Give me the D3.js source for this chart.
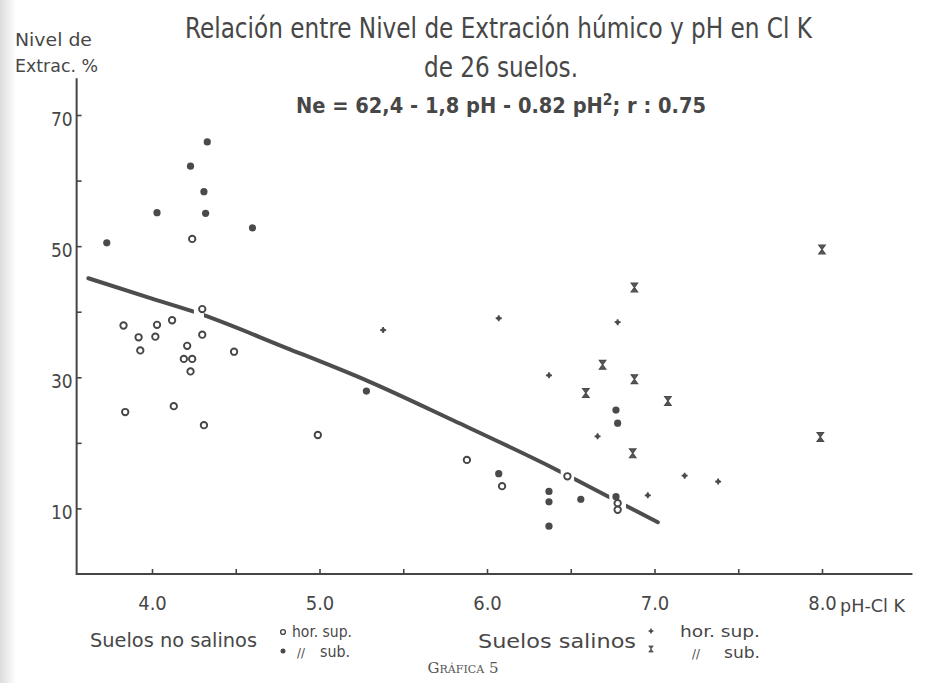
<!DOCTYPE html>
<html>
<head>
<meta charset="utf-8">
<script src="https://cdn.jsdelivr.net/npm/d3@7"></script>
<style>
  body { margin: 0; background: #fff; }
  svg { display: block; }
  text { fill: #474747; font-family: "Liberation Sans Narrow", "DejaVu Sans Condensed", "DejaVu Sans", sans-serif; }
</style>
</head>
<body>
<svg id="chart" width="928" height="683"></svg>
<script>
// [pH ClK, nivel de extraccion %]
const noSalinosSup = [
  [4.24, 51.1], [4.30, 40.4], [3.83, 37.9], [3.92, 36.1], [3.93, 34.1],
  [4.03, 38.0], [4.02, 36.2], [4.12, 38.7], [4.21, 34.8], [4.19, 32.8],
  [4.24, 32.8], [4.23, 30.9], [4.30, 36.5], [4.49, 33.9], [3.84, 24.7],
  [4.13, 25.6], [4.31, 22.7], [4.99, 21.2], [5.88, 17.4], [6.09, 13.4],
  [6.48, 14.9], [6.78, 10.8], [6.78, 9.8]
]
const noSalinosSub = [
  [4.33, 65.9], [4.23, 62.2], [4.31, 58.3], [4.32, 55.0], [4.03, 55.1],
  [4.60, 52.8], [3.73, 50.5], [5.28, 27.9], [6.77, 25.0], [6.78, 23.0],
  [6.07, 15.3], [6.37, 12.6], [6.37, 11.0], [6.56, 11.4], [6.77, 11.8],
  [6.37, 7.3]
]
const salinosSup = [
  [5.38, 37.2], [6.07, 39.0], [6.78, 38.4], [6.37, 30.3],
  [6.66, 21.0], [7.18, 15.0], [7.38, 14.1], [6.96, 12.0]
]
const salinosSub = [
  [6.88, 43.7], [6.69, 31.9], [6.88, 29.7], [6.59, 27.6],
  [7.08, 26.4], [6.87, 18.4], [8.00, 49.5], [7.99, 20.9]
]

// fitted curve as drawn and where the pen was lifted
const curvaPH = [3.62, 4.0, 4.25, 4.8, 5.3, 5.8, 6.4, 6.8, 7.02]
const curvaNivel = [45.1, 42.0, 40.0, 34.5, 29.3, 23.4, 16.1, 10.8, 7.9]
const huecos = [[4.25, 4.31], [6.44, 6.52], [6.73, 6.83]]

const xTicks = [4, 4.5, 5, 5.5, 6, 6.5, 7, 7.5, 8]
const yTicks = [10, 20, 30, 40, 50, 60, 70]

const ink = "#454545"
const svg = d3.select("#chart")

// faint shadow of the page edge
const grad = svg.append("defs").append("linearGradient").attr("id", "edge")
grad.append("stop").attr("offset", "0").attr("stop-color", "#dcdcdc")
grad.append("stop").attr("offset", "1").attr("stop-color", "#fff")
svg.append("rect").attr("width", 16).attr("height", 683).attr("fill", "url(#edge)")

const x = d3.scaleLinear().domain([4, 8]).range([152, 822])
const y = d3.scaleLinear().domain([0, 70]).range([574, 115])

// axes
const gx = svg.append("g")
  .attr("transform", "translate(0," + y(0) + ")")
  .call(d3.axisBottom(x).tickValues(xTicks).tickSize(-5).tickSizeOuter(0).tickPadding(22)
    .tickFormat(d => Number.isInteger(d) ? d3.format(".1f")(d) : ""))
gx.select(".domain").remove()
gx.selectAll(".tick line").attr("stroke", ink).attr("stroke-width", 1.6)
gx.selectAll(".tick text").style("font-size", "20px")

const gy = svg.append("g")
  .attr("transform", "translate(" + x(3.55) + ",0)")
  .call(d3.axisLeft(y).tickValues(yTicks).tickSize(-5).tickSizeOuter(0).tickPadding(4)
    .tickFormat(d => d % 20 === 10 ? d : ""))
gy.select(".domain").remove()
gy.selectAll(".tick line").attr("stroke", ink).attr("stroke-width", 1.6)
gy.selectAll(".tick text").style("font-size", "19px").attr("dy", "0.55em")

svg.append("path")
  .attr("d", d3.line()([[x(3.55), y(75.6)], [x(3.55), y(0)], [x(8.54), y(0)]]))
  .attr("fill", "none").attr("stroke", ink).attr("stroke-width", 2)

// regression curve with gaps around the points it crosses
const mask = svg.select("defs").append("mask").attr("id", "huecos")
mask.append("rect").attr("width", 928).attr("height", 683).attr("fill", "#fff")
mask.selectAll("rect.h").data(huecos).enter().append("rect")
  .attr("class", "h")
  .attr("x", d => x(d[0])).attr("width", d => x(d[1]) - x(d[0]))
  .attr("y", 0).attr("height", 683).attr("fill", "#000")

svg.append("path")
  .datum(d3.zip(curvaPH, curvaNivel))
  .attr("d", d3.line().x(d => x(d[0])).y(d => y(d[1])).curve(d3.curveMonotoneX))
  .attr("fill", "none").attr("stroke", "#4d4d4d").attr("stroke-width", 4)
  .attr("stroke-linecap", "round")
  .attr("mask", "url(#huecos)")

// marks
const plusPath = "M-3,0H3M0,-3V3"
const xPath = "M-3.2,-4.4H3.2L-3.2,4.4H3.2Z"

svg.append("g").selectAll("circle").data(noSalinosSup).enter().append("circle")
  .attr("cx", d => x(d[0])).attr("cy", d => y(d[1])).attr("r", 3.2)
  .attr("fill", "#fff").attr("stroke", ink).attr("stroke-width", 1.9)

svg.append("g").selectAll("circle").data(noSalinosSub).enter().append("circle")
  .attr("cx", d => x(d[0])).attr("cy", d => y(d[1])).attr("r", 3.6)
  .attr("fill", "#4a4a4a")

const gp = svg.append("g").selectAll("g").data(salinosSup).enter().append("g")
  .attr("transform", d => "translate(" + x(d[0]) + "," + y(d[1]) + ")")
gp.append("path").attr("d", plusPath)
  .attr("stroke", "#4a4a4a").attr("stroke-width", 1.8).attr("fill", "none")
gp.append("circle").attr("r", 2).attr("fill", "#4a4a4a")

svg.append("g").selectAll("path").data(salinosSub).enter().append("path")
  .attr("d", xPath)
  .attr("transform", d => "translate(" + x(d[0]) + "," + y(d[1]) + ")")
  .attr("fill", "#5a5a5a").attr("stroke", "#4a4a4a").attr("stroke-width", 1.2)

// titles
function txt(s, tx, ty, size, width, anchor) {
  const t = svg.append("text").attr("x", tx).attr("y", ty)
    .style("font-size", size + "px").attr("text-anchor", anchor || "start").text(s)
  if (width) t.attr("textLength", width).attr("lengthAdjust", "spacingAndGlyphs")
  return t
}

txt("Nivel de", 15, 46, 17, 77)
txt("Extrac. %", 15, 72, 17, 83)
txt("Relación entre Nivel de Extración húmico y pH en Cl K", 185, 38, 28, 627)
txt("de 26 suelos.", 424, 77, 28, 154)

const eq = svg.append("text").attr("x", 296).attr("y", 113)
  .style("font-size", "21px").style("font-weight", "bold")
eq.append("tspan").text("Ne = 62,4 - 1,8 pH - 0.82 pH")
eq.append("tspan").attr("dy", -8).style("font-size", "15px").text("2")
eq.append("tspan").attr("dy", 8).text("; r : 0.75")
eq.attr("textLength", 410).attr("lengthAdjust", "spacingAndGlyphs")

txt("pH-Cl K", 840, 612, 18, 65)

// legend
txt("Suelos no salinos", 90, 647, 20, 167)
svg.append("circle").attr("cx", 283).attr("cy", 632).attr("r", 2.4)
  .attr("fill", "#fff").attr("stroke", ink).attr("stroke-width", 1.4)
svg.append("circle").attr("cx", 283).attr("cy", 651).attr("r", 2.5).attr("fill", "#4a4a4a")
txt("hor. sup.", 292, 637, 16, 60)
txt("//", 297, 657, 13)
txt("sub.", 320, 657, 16, 30)

txt("Suelos salinos", 478, 648, 20, 158)
const lp = svg.append("g").attr("transform", "translate(651,631) scale(0.8)")
lp.append("path").attr("d", plusPath).attr("stroke", "#4a4a4a").attr("stroke-width", 1.8).attr("fill", "none")
lp.append("circle").attr("r", 2).attr("fill", "#4a4a4a")
svg.append("path").attr("d", xPath).attr("transform", "translate(651,649) scale(0.7)")
  .attr("fill", "#5a5a5a").attr("stroke", "#4a4a4a").attr("stroke-width", 1)
txt("hor. sup.", 680, 637, 16, 80)
txt("//", 692, 658, 13)
txt("sub.", 724, 658, 16, 36)

svg.append("text").attr("x", 463).attr("y", 673).attr("text-anchor", "middle")
  .style("font-family", "'DejaVu Serif', 'Liberation Serif', serif")
  .style("font-size", "15px").style("fill", "#555")
  .style("font-variant", "small-caps").text("Gráfica 5")
</script>
</body>
</html>
